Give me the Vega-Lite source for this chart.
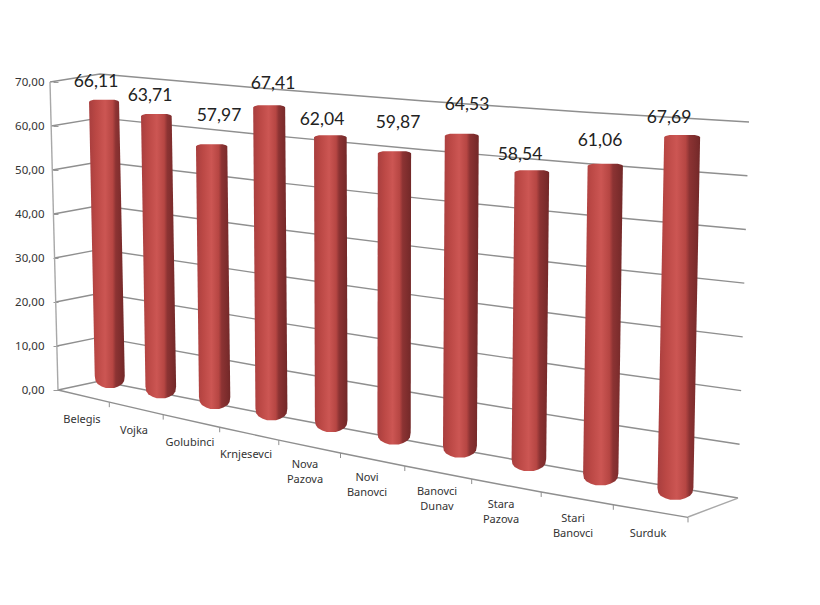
{
"$schema":"https://vega.github.io/schema/vega-lite/v6.json",
"width":820,"height":605,"autosize":"none","padding":0,"background":"white",
"config":{"view":{"stroke":null}},
"data":{"values":[
{"i":0,"name":"Belegis","value":66.11,"vx":96,"vy":82,"cx":82,"cy":420},
{"i":1,"name":"Vojka","value":63.71,"vx":150,"vy":96,"cx":134,"cy":431},
{"i":2,"name":"Golubinci","value":57.97,"vx":219,"vy":116,"cx":190,"cy":443},
{"i":3,"name":"Krnjesevci","value":67.41,"vx":273,"vy":84,"cx":246,"cy":455},
{"i":4,"name":"Nova Pazova","value":62.04,"vx":322,"vy":120,"cx":305,"cy":465},
{"i":5,"name":"Novi Banovci","value":59.87,"vx":398,"vy":123,"cx":367,"cy":478},
{"i":6,"name":"Banovci Dunav","value":64.53,"vx":467,"vy":105,"cx":437,"cy":492},
{"i":7,"name":"Stara Pazova","value":58.54,"vx":520,"vy":155,"cx":501,"cy":505},
{"i":8,"name":"Stari Banovci","value":61.06,"vx":600,"vy":141,"cx":573,"cy":519},
{"i":9,"name":"Surduk","value":67.69,"vx":669,"vy":118,"cx":648,"cy":534}
]},
"layer":[
{"data":{"values":[{"level":0},{"level":10},{"level":20},{"level":30},{"level":40},{"level":50},{"level":60},{"level":70}]},
 "transform":[
  {"calculate":"[-1,0,0.25,0.5,0.75,1]","as":"t"},{"flatten":["t"]},
  {"calculate":"738+datum.level*11/70","as":"rx"},
  {"calculate":"498-datum.level*5.371","as":"ry"},
  {"calculate":"381-datum.level*4.386","as":"cy"},
  {"calculate":"datum.t<0?58-datum.level*8/70:100+(datum.rx-100)*datum.t","as":"gx"},
  {"calculate":"datum.t<0?390-datum.level*4.4:datum.cy+(datum.ry-datum.cy)*datum.t+3*4*datum.t*(1-datum.t)","as":"gpy"},
  {"calculate":"(390-datum.gpy)/4.4","as":"gy"}],
 "mark":{"type":"line","color":"#8f8f8f","strokeWidth":1.4},
 "encoding":{"x":{"field":"gx","type":"quantitative","scale":{"domain":[0,820],"nice":false,"zero":false},"axis":null},
  "y":{"field":"gy","type":"quantitative","scale":{"domain":[-48.86,88.64],"nice":false,"zero":false},
   "axis":{"title":null,"values":[0,10,20,30,40,50,60,70],"offset":-58,"domain":false,"grid":false,"tickSize":5,"tickColor":"#999999","labelPadding":9,"labelFont":"Noto Sans","labelFontSize":11.5,"labelColor":"#333333",
    "labelExpr":"replace(format(datum.value,'.2f'),'.',',')",
    "encoding":{"labels":{"update":{"dx":{"signal":"-datum.value*8/70"}}},"ticks":{"update":{"dx":{"signal":"-datum.value*8/70"}}}}}},
  "detail":{"field":"level"}}},
{"data":{"values":[{"j":0},{"j":1},{"j":2},{"j":3},{"j":4},{"j":5},{"j":6},{"j":7},{"j":8},{"j":9},{"j":10}]},
 "transform":[
  {"calculate":"58+50*datum.j+1.3*datum.j*datum.j","as":"fx"},
  {"calculate":"390+0.24*(datum.fx-58)-0.00006*(datum.fx-58)*(datum.fx-58)","as":"fpy"},
  {"calculate":"(390-datum.fpy)/4.4","as":"fy"},
  {"calculate":"(390-datum.fpy-5)/4.4","as":"fy2"}],
 "layer":[
  {"mark":{"type":"line","color":"#8f8f8f","strokeWidth":1.4},"encoding":{"x":{"field":"fx","type":"quantitative"},"y":{"field":"fy","type":"quantitative"}}},
  {"transform":[{"filter":"datum.j>0"}],"mark":{"type":"rule","color":"#8f8f8f","strokeWidth":1},"encoding":{"x":{"field":"fx","type":"quantitative"},"y":{"field":"fy","type":"quantitative"},"y2":{"field":"fy2"}}}
 ]},
{"data":{"values":[{"x":50,"y":70,"x2":58,"y2":0},{"x":688,"y":-28.86,"x2":738,"y2":-24.55}]},
 "mark":{"type":"rule","color":"#a8a8a8","strokeWidth":1.4},
 "encoding":{"x":{"field":"x","type":"quantitative"},"x2":{"field":"x2"},"y":{"field":"y","type":"quantitative"},"y2":{"field":"y2"}}},
{"transform":[
  {"calculate":"388+9.9*datum.i+0.28*datum.i*datum.i","as":"bp"},
  {"calculate":"datum.value*(4.36+0.1*datum.i+0.0016*datum.i*datum.i)","as":"h"},
  {"calculate":"-0.0208+0.00444*datum.i","as":"slope"},
  {"calculate":"110+50.65*datum.i+1.35*datum.i*datum.i-3*sin(PI*datum.i/9)","as":"cb"},
  {"calculate":"15+0.33*datum.i","as":"hw"},
  {"calculate":"[0,0,0,1,1,1,1,1]","as":"t"},
  {"calculate":"[0,1,2,-12,-7,-4,-1.5,0]","as":"off"},
  {"calculate":"[0.7,0.92,1,1,0.95,0.82,0.55,0.28]","as":"w"},
  {"flatten":["t","off","w"]},
  {"calculate":"datum.bp-(1-datum.t)*datum.h+datum.off","as":"py"},
  {"calculate":"datum.cb+datum.slope*(datum.bp-datum.py)","as":"cx0"},
  {"calculate":"datum.cx0-datum.w*datum.hw","as":"xl"},
  {"calculate":"datum.cx0+datum.w*datum.hw","as":"xr"},
  {"calculate":"(390-datum.py)/4.4","as":"yu"}],
 "mark":{"type":"area","orient":"horizontal","interpolate":"linear","line":false,
  "fill":{"gradient":"linear","x1":0,"y1":0,"x2":1,"y2":0,"stops":[{"offset":0,"color":"#a83e3e"},{"offset":0.2,"color":"#bb4845"},{"offset":0.45,"color":"#cc5653"},{"offset":0.66,"color":"#b64643"},{"offset":0.75,"color":"#8c3333"},{"offset":1,"color":"#722828"}]}},
 "encoding":{"y":{"field":"yu","type":"quantitative"},"x":{"field":"xl","type":"quantitative","stack":null},"x2":{"field":"xr"},"detail":{"field":"name"}}},
{"transform":[{"calculate":"replace(format(datum.value,'.2f'),'.',',')","as":"vt"},{"calculate":"(390-datum.vy)/4.4","as":"vu"}],
 "mark":{"type":"text","font":"Lato","fontSize":17.5,"color":"#222222"},
 "encoding":{"x":{"field":"vx","type":"quantitative"},"y":{"field":"vu","type":"quantitative"},"text":{"field":"vt"}}},
{"transform":[{"calculate":"replace(datum.name,' ','\\n')","as":"ct"},{"calculate":"(390-datum.cy)/4.4","as":"cu"}],
 "mark":{"type":"text","font":"Noto Sans","fontSize":11,"color":"#333333","lineBreak":"\n","lineHeight":15},
 "encoding":{"x":{"field":"cx","type":"quantitative"},"y":{"field":"cu","type":"quantitative"},"text":{"field":"ct"}}}
]
}
